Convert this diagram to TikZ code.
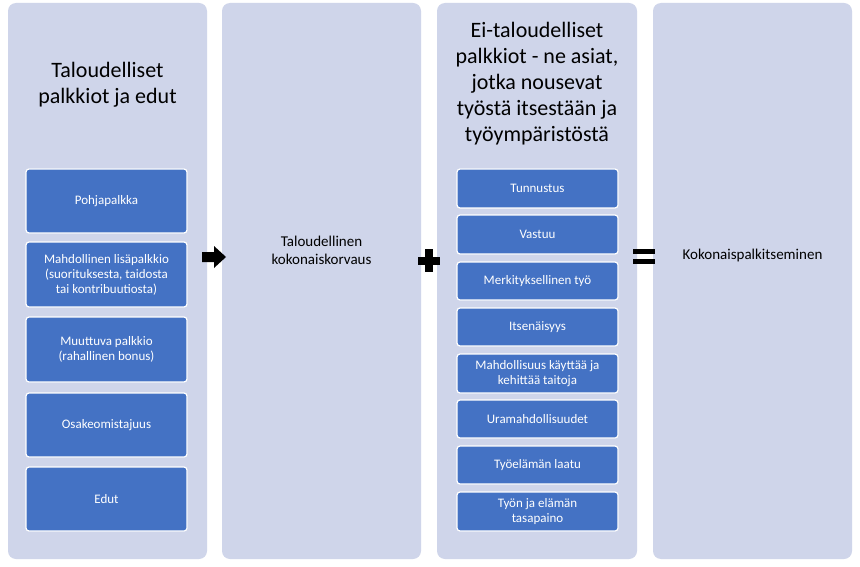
\documentclass[tikz,border=0pt]{standalone}
\usepackage{fontspec}
\setmainfont{Carlito}
\usetikzlibrary{shapes.arrows}
\definecolor{lav}{HTML}{CFD5EA}
\definecolor{bl}{HTML}{4472C4}
\begin{document}
\begin{tikzpicture}[x=1pt,y=-1pt,
 col/.style={fill=lav,rounded corners=8pt,draw=none},
 bx/.style={fill=bl,draw=white,line width=1.2pt,rounded corners=3pt,text=white,font=\fontsize{13}{15}\selectfont,align=center,inner sep=2pt},
 ttl/.style={font=\fontsize{22}{26}\selectfont,align=center,text=black},
 mid/.style={font=\fontsize{15}{18}\selectfont,align=center}]
\useasboundingbox (0,0) rectangle (860,567);
\fill[white] (0,0) rectangle (860,567);
\path[col] (8,3) rectangle (207,559);
\path[col] (222,3) rectangle (421,559);
\path[col] (437,3) rectangle (637,559);
\path[col] (653,3) rectangle (852,559);
\node[ttl] (t1) at (107.5,85) {Taloudelliset\\palkkiot ja edut};
\node[ttl] (t3) at (537,84) {Ei-taloudelliset\\palkkiot - ne asiat,\\jotka nousevat\\työstä itsestään ja\\työympäristöstä};
\node[mid] (m2) at (321.5,250) {Taloudellinen\\kokonaiskorvaus};
\node[mid] (m4) at (752.5,256) {Kokonaispalkitseminen};
\foreach \n/\a/\b/\t in {a1/169/233/Pohjapalkka, a2/242/307/{Mahdollinen lisäpalkkio\\(suorituksesta, taidosta\\tai kontribuutiosta)}, a3/317/382/{Muuttuva palkkio\\(rahallinen bonus)}, a4/393/457/Osakeomistajuus, a5/467/531/Edut}{
 \path[bx] (26,\a) rectangle (187,\b);
 \node[bx,draw=none,fill=none] (\n) at (106.5,{(\a+\b)/2}) {\t};}
\foreach \n/\a/\b/\t in {b1/169/208/Tunnustus, b2/215/254/Vastuu, b3/262/300/Merkityksellinen työ, b4/308/346/Itsenäisyys, b5/354/393/{Mahdollisuus käyttää ja\\kehittää taitoja}, b6/400/438/Uramahdollisuudet, b7/446/484/Työelämän laatu, b8/492/531/{Työn ja elämän\\tasapaino}}{
 \path[bx] (457,\a) rectangle (618,\b);
 \node[bx,draw=none,fill=none] (\n) at (537.5,{(\a+\b)/2}) {\t};}
% arrow
\fill[black] (202,252) -- (214,252) -- (214,246) -- (226,257) -- (214,268) -- (214,262) -- (202,262) -- cycle;
% plus
\fill[black] (425,249) rectangle (433,272);
\fill[black] (418,256.5) rectangle (440,264.5);
% equals
\fill[black] (633,249) rectangle (655,254);
\fill[black] (633,259) rectangle (655,264);
\end{tikzpicture}
\end{document}
